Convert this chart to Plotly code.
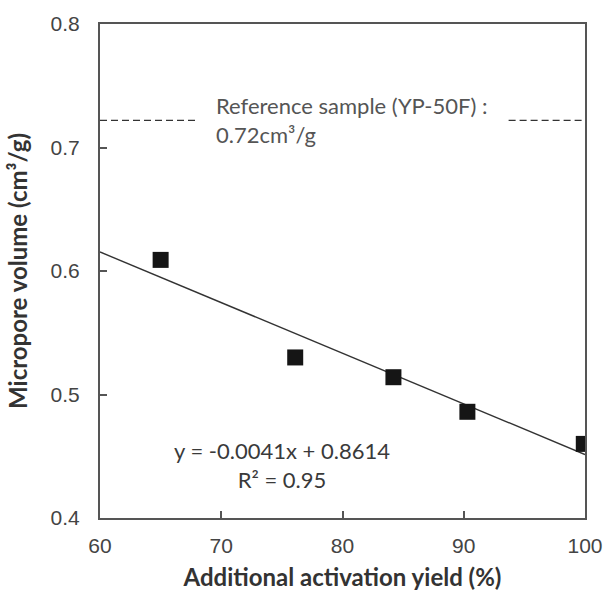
import plotly.graph_objects as go

# Data
yield_pct = [65.0, 76.1, 84.2, 90.3, 99.9]
micropore = [0.609, 0.530, 0.514, 0.486, 0.460]
slope, intercept = -0.0041, 0.8614
fit_x = [60, 100]
fit_y = [slope * x + intercept for x in fit_x]
ref_value = 0.722
ref_left_x = [60, 67.9]
ref_right_x = [93.7, 100]
x_ticks = [60, 70, 80, 90, 100]
y_ticks = [0.4, 0.5, 0.6, 0.7, 0.8]

TEXT_FONT = "Lato"
TICK_FONT = "Liberation Sans"
fig = go.Figure()
fig.add_trace(go.Scatter(x=fit_x, y=fit_y, mode="lines",
                         line=dict(color="#333333", width=1.4), showlegend=False))
for xs in (ref_left_x, ref_right_x):
    fig.add_trace(go.Scatter(x=xs, y=[ref_value] * 2, mode="lines",
                             line=dict(color="#333333", width=1.3, dash="7px,4px"),
                             showlegend=False))
fig.add_trace(go.Scatter(x=yield_pct, y=micropore, mode="markers",
                         marker=dict(symbol="square", size=16, color="#151515"),
                         showlegend=False))

fig.add_annotation(x=69.4, y=ref_value, xref="x", yref="y",
                   text="Reference sample (YP-50F) :<br>0.72cm³/g", showarrow=False,
                   xanchor="left", yanchor="middle", align="left",
                   font=dict(family=TEXT_FONT, size=22, color="#555555"))
fig.add_annotation(x=75.0, y=0.443, xref="x", yref="y",
                   text="y = -0.0041x + 0.8614<br>R² = 0.95", showarrow=False,
                   xanchor="center", yanchor="middle", align="center",
                   font=dict(family=TEXT_FONT, size=22, color="#3a3a3a"))

axis_common = dict(showgrid=False, zeroline=False, showline=True, linecolor="#555555",
                   linewidth=2, mirror=True, ticks="inside", ticklen=7,
                   tickcolor="#555555", tickwidth=1.5,
                   tickfont=dict(family=TICK_FONT, size=21, color="#444444"))
fig.update_xaxes(range=[60, 100], tickvals=x_ticks, ticklabelstandoff=8, **axis_common,
                 title=dict(text="<b>Additional activation yield (%)</b>", standoff=13,
                            font=dict(family=TEXT_FONT, size=24, color="#333333")))
fig.update_yaxes(range=[0.4, 0.8], tickvals=y_ticks, tickformat=".1f",
                 ticklabelstandoff=14, **axis_common,
                 title=dict(text="<b>Micropore volume (cm³/g)</b>", standoff=16,
                            font=dict(family=TEXT_FONT, size=24, color="#333333")))
fig.update_layout(width=615, height=600, plot_bgcolor="white", paper_bgcolor="white",
                  margin=dict(l=100, r=19, t=17, b=82))
fig.write_html("out.html")
